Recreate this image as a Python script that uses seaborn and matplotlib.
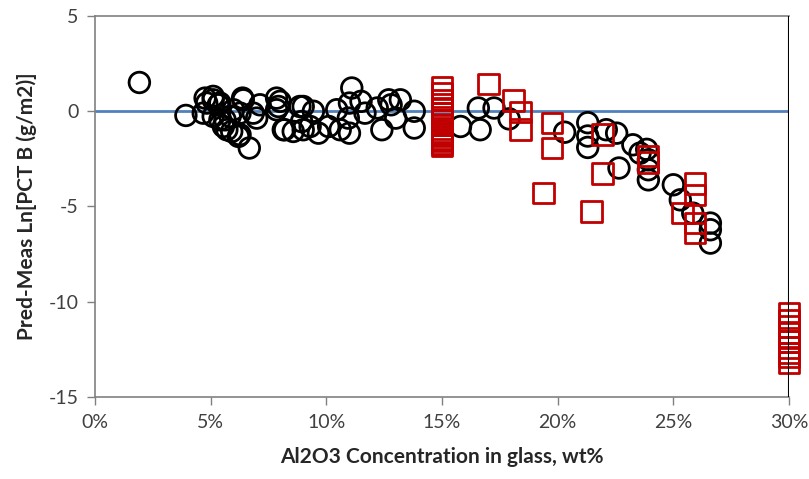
import numpy as np
import pandas as pd
import matplotlib
matplotlib.use('Agg')
import matplotlib.pyplot as plt
import seaborn as sns
from matplotlib.ticker import PercentFormatter

# Black circles: Al2O3 (wt%) vs residual
circle_x = [1.92, 3.93, 4.83, 5.11, 5.40, 4.68, 5.55, 5.70, 6.20, 6.67,
            6.41, 6.27, 7.13, 6.84, 8.00, 7.85, 8.14, 8.57, 5.98, 5.84,
            5.40, 5.11, 4.76, 5.11, 5.33, 5.62, 5.91, 6.27, 6.38, 6.99,
            7.85, 7.93, 8.20, 8.86, 8.93, 9.00, 9.00, 9.30, 9.66, 10.45,
            10.10, 11.10, 11.00, 10.95, 11.00, 11.50, 11.67, 12.20, 12.40, 12.80,
            13.00, 13.20, 13.80, 13.80, 12.70, 10.60, 9.44, 15.80, 16.57, 16.65,
            17.25, 17.90, 20.30, 21.30, 21.30, 21.30, 22.10, 22.55, 22.65, 23.25,
            23.56, 23.85, 23.92, 23.92, 23.92, 25.00, 25.30, 25.84, 26.60, 26.60,
            26.60]
circle_y = [1.51, -0.22, 0.43, 0.60, 0.43, -0.10, -0.80, -0.97, -1.32, -1.93,
            0.60, -0.10, 0.34, -0.10, 0.52, 0.08, -0.97, -1.06, 0.08, -0.27,
            -0.45, -0.27, 0.69, 0.78, 0.34, -0.45, -1.06, -1.23, 0.69, -0.36,
            0.69, 0.25, -0.97, 0.25, -0.54, -0.97, 0.25, -0.80, -1.15, 0.08,
            -0.80, 1.22, 0.43, -0.36, -1.15, 0.52, -0.10, 0.17, -0.97, 0.34,
            -0.36, 0.60, 0.00, -0.88, 0.60, -0.97, 0.00, -0.80, 0.17, -0.97,
            0.17, -0.40, -1.10, -0.60, -1.30, -1.90, -0.97, -1.15, -2.98, -1.76,
            -2.20, -2.00, -2.55, -3.07, -3.60, -3.86, -4.65, -5.35, -5.87, -6.22,
            -6.92]

# Red squares
square_x = [15.0] * 17 + [17.0, 18.1, 18.4, 18.4, 19.75, 19.75, 19.4,
            21.95, 21.95, 21.45, 23.9, 23.9, 25.94, 25.94, 25.4, 25.94, 25.94] + [30.0] * 10
square_y = [1.25, 0.95, 0.60, 0.35, 0.10, -0.10, -0.30, -0.50, -0.70, -0.90,
            -1.05, -1.20, -1.30, -1.45, -1.55, -1.70, -1.80,
            1.44, 0.57, -0.04, -0.97, -0.62, -1.93, -4.30,
            -1.23, -3.28, -5.26, -2.35, -2.70, -3.80, -4.40, -5.35, -5.87, -6.40,
            -10.6, -11.0, -11.3, -11.6, -11.9, -12.1, -12.4, -12.7, -12.9, -13.2]

circles = pd.DataFrame({'x': circle_x, 'y': circle_y})
squares = pd.DataFrame({'x': square_x, 'y': square_y})

sns.set_style('white')
plt.rcParams['font.family'] = ['Lato', 'DejaVu Sans']
plt.rcParams['axes.unicode_minus'] = False

fig = plt.figure(figsize=(8.09, 4.79), dpi=100)
ax = fig.add_axes([0.1174, 0.1712, 0.8579, 0.7954])

ax.axhline(0, color='#4F81BD', lw=2, zorder=1)
sns.scatterplot(data=circles, x='x', y='y', marker='o', s=220,
                facecolors='none', edgecolor='black', linewidth=2, ax=ax, zorder=3)
sns.scatterplot(data=squares, x='x', y='y', marker='s', s=220, clip_on=False,
                facecolors='none', edgecolor='#C00000', linewidth=2, ax=ax, zorder=4)
ax.axvline(30, color='black', lw=1.5, zorder=5)

ax.set_xlim(0, 30)
ax.set_ylim(-15, 5)
ax.set_xticks([0, 5, 10, 15, 20, 25, 30])
ax.set_yticks([5, 0, -5, -10, -15])
ax.xaxis.set_major_formatter(PercentFormatter(xmax=100, decimals=0))

for side in ['left', 'bottom', 'top']:
    ax.spines[side].set_color('#808080')
    ax.spines[side].set_linewidth(1.2)
ax.spines['right'].set_visible(False)

ax.tick_params(axis='both', direction='out', length=6, width=1, color='#808080',
               labelsize=14, labelcolor='#404040', left=True, bottom=True, pad=6)

ax.set_xlabel('Al2O3 Concentration in glass, wt%', fontsize=15, fontweight='bold', labelpad=12)
ax.set_ylabel('Pred-Meas Ln[PCT B (g/m2)]', fontsize=15, fontweight='bold', labelpad=8)

fig.savefig('out.png', dpi=100)
